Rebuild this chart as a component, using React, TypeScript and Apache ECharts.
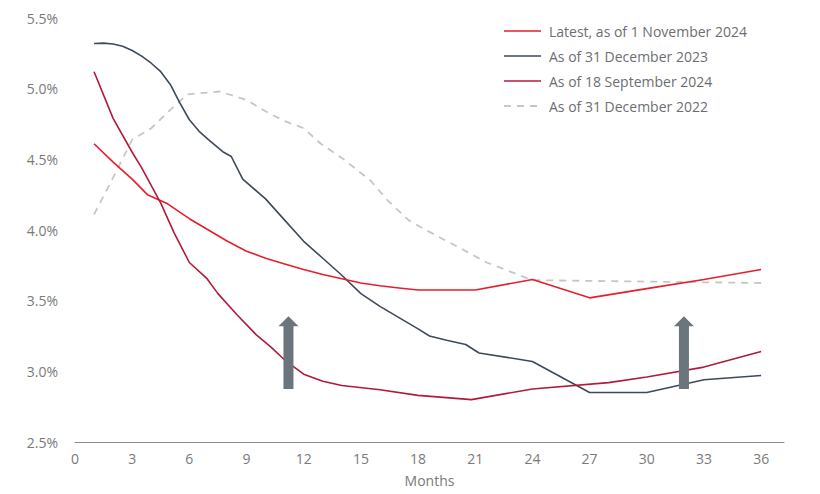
import React, { useEffect, useRef } from "react";
import * as echarts from "echarts";

const seriesNames = [
  "Latest, as of 1 November 2024",
  "As of 31 December 2023",
  "As of 18 September 2024",
  "As of 31 December 2022",
];

const latestMonths = [1, 2, 3, 3.8, 4.8, 6, 7, 8, 9, 10, 11, 12, 13, 14, 15, 16, 17, 18, 21, 24, 27, 30, 33, 36];
const latestValues = [4.61, 4.48, 4.36, 4.25, 4.19, 4.08, 4.0, 3.92, 3.85, 3.8, 3.76, 3.72, 3.685, 3.655, 3.625, 3.605, 3.59, 3.575, 3.575, 3.65, 3.52, 3.585, 3.65, 3.72];

const dec23Months = [1, 1.5, 2, 2.5, 3, 3.5, 4, 4.5, 5, 5.5, 6, 6.5, 7, 7.8, 8.2, 8.8, 10, 11, 12, 13, 14, 15, 16, 17, 18, 18.6, 19.5, 20.5, 21.2, 24, 27, 30, 33, 36];
const dec23Values = [5.32, 5.322, 5.316, 5.3, 5.27, 5.23, 5.18, 5.12, 5.03, 4.9, 4.78, 4.7, 4.64, 4.55, 4.52, 4.36, 4.22, 4.07, 3.92, 3.8, 3.68, 3.55, 3.46, 3.38, 3.3, 3.25, 3.22, 3.19, 3.13, 3.07, 2.85, 2.85, 2.94, 2.97];

const sep24Months = [1, 2, 3, 3.5, 4.5, 5.2, 6, 6.9, 7.5, 8.5, 9.5, 10.3, 11, 12, 13, 14, 16, 18, 20.8, 24, 28, 30, 33, 36];
const sep24Values = [5.12, 4.79, 4.55, 4.44, 4.19, 3.98, 3.77, 3.66, 3.55, 3.4, 3.26, 3.17, 3.08, 2.98, 2.93, 2.9, 2.87, 2.83, 2.8, 2.875, 2.92, 2.96, 3.03, 3.14];

const dec22Months = [1, 2, 3, 4, 5, 5.9, 7.6, 9, 10, 11, 12, 12.9, 14.1, 15.5, 16.4, 17.5, 18.4, 20.1, 21.6, 24, 27, 30, 33, 36];
const dec22Values = [4.11, 4.37, 4.64, 4.72, 4.85, 4.96, 4.98, 4.92, 4.84, 4.77, 4.72, 4.61, 4.5, 4.35, 4.21, 4.07, 4.0, 3.88, 3.77, 3.645, 3.64, 3.635, 3.63, 3.625];

const seriesColors = ["#e61e2d", "#3e4a5a", "#b21a3a", "#c6c6c6"];

// Arrow annotations in data units: [month, from value, to value]
const arrowMonths = [11.2, 31.95];
const arrowFrom = 2.875;
const arrowTo = 3.39;

const zip = (xs: number[], ys: number[]) => xs.map((x, i) => [x, ys[i]]);

export default function App() {
  const ref = useRef<HTMLDivElement>(null);
  useEffect(() => {
    if (!ref.current) return;
    const chart = echarts.init(ref.current, null, { renderer: "svg" });
    const font = "'Open Sans', 'Noto Sans', sans-serif";
    const datasets = [
      zip(latestMonths, latestValues),
      zip(dec23Months, dec23Values),
      zip(sep24Months, sep24Values),
      zip(dec22Months, dec22Values),
    ];
    const lineW = (i: number) => (i === 3 ? 1.8 : 1.6);
    const lineType = (i: number) => (i === 3 ? [7, 6] : "solid");
    chart.setOption({
      animation: false,
      textStyle: { fontFamily: font },
      grid: { left: 75, right: 36, top: 18, bottom: 52 },
      xAxis: {
        type: "value",
        min: 0,
        max: 37.2,
        interval: 3,
        name: "Months",
        nameLocation: "middle",
        nameGap: 31,
        nameTextStyle: { fontSize: 14, color: "#7a7a7a", fontFamily: font },
        axisLine: { show: true, lineStyle: { color: "#8c8c8c", width: 1 } },
        axisTick: { show: false },
        splitLine: { show: false },
        axisLabel: {
          fontSize: 14,
          color: "#7a7a7a",
          margin: 9,
          formatter: (v: number) => (Math.abs(v % 3) < 1e-9 ? String(v) : ""),
        },
      },
      yAxis: {
        type: "value",
        min: 2.5,
        max: 5.5,
        interval: 0.5,
        axisLine: { show: false },
        axisTick: { show: false },
        splitLine: { show: false },
        axisLabel: {
          fontSize: 14,
          color: "#7a7a7a",
          margin: 17,
          formatter: (v: number) => v.toFixed(1) + "%",
        },
      },
      series: seriesNames.map((name, i) => ({
        name,
        type: "line",
        data: datasets[i],
        symbol: "none",
        smooth: false,
        z: [4, 3, 5, 2][i],
        lineStyle: { color: seriesColors[i], width: lineW(i), type: lineType(i) },
        itemStyle: { color: seriesColors[i] },
      })),
    });

    const shaftHalf = 5;
    const headHalf = 10;
    const headH = 10;
    const arrows = arrowMonths.map((m) => {
      const [x, yb] = chart.convertToPixel({ gridIndex: 0 }, [m, arrowFrom]) as number[];
      const [, yt] = chart.convertToPixel({ gridIndex: 0 }, [m, arrowTo]) as number[];
      return {
        type: "polygon",
        z: 10,
        shape: {
          points: [
            [x - shaftHalf, yb],
            [x - shaftHalf, yt + headH],
            [x - headHalf, yt + headH],
            [x, yt],
            [x + headHalf, yt + headH],
            [x + shaftHalf, yt + headH],
            [x + shaftHalf, yb],
          ],
        },
        style: { fill: "#6b757c" },
      };
    });

    const legendX = 504;
    const legendTop = 31;
    const legendGap = 25;
    const legendItems: any[] = [];
    seriesNames.forEach((name, i) => {
      const y = legendTop + i * legendGap;
      legendItems.push({
        type: "line",
        z: 10,
        shape: { x1: legendX, y1: y, x2: legendX + 37, y2: y },
        style: { stroke: seriesColors[i], lineWidth: lineW(i), lineDash: i === 3 ? [7, 6] : null },
      });
      legendItems.push({
        type: "text",
        z: 10,
        x: legendX + 45,
        y,
        style: {
          text: name,
          fill: "#6d6e71",
          fontSize: 14,
          fontFamily: font,
          verticalAlign: "middle",
          align: "left",
        },
      });
    });

    chart.setOption({ graphic: [...arrows, ...legendItems] });

    return () => chart.dispose();
  }, []);
  return (
    <div
      ref={ref}
      style={{ position: "absolute", left: 0, top: 0, width: 820, height: 494 }}
    />
  );
}
